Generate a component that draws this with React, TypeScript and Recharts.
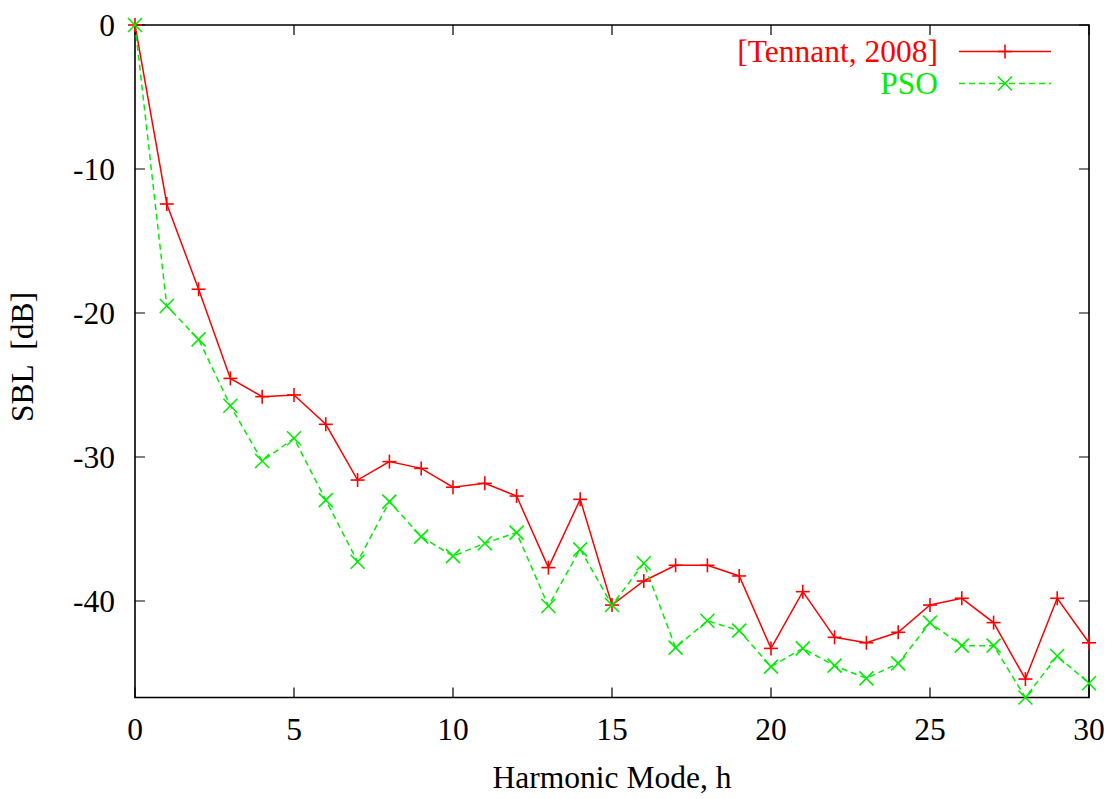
import React from 'react';
import {
  LineChart,
  Line,
  XAxis,
  YAxis,
  CartesianGrid,
  ReferenceArea,
  Legend,
  Label,
} from 'recharts';

const harmonics = [
  0, 1, 2, 3, 4, 5, 6, 7, 8, 9, 10, 11, 12, 13, 14, 15, 16, 17, 18, 19, 20, 21, 22, 23, 24, 25, 26,
  27, 28, 29, 30,
];

const tennant = [
  0, -12.43, -18.35, -24.54, -25.81, -25.69, -27.73, -31.6, -30.32, -30.79, -32.1, -31.83, -32.71,
  -37.68, -32.94, -40.28, -38.61, -37.52, -37.52, -38.26, -43.29, -39.35, -42.52, -42.9, -42.17,
  -40.28, -39.81, -41.5, -45.42, -39.81, -42.9,
];

const pso = [
  0, -19.51, -21.83, -26.44, -30.28, -28.7, -32.99, -37.27, -33.1, -35.53, -36.88, -35.99, -35.25,
  -40.35, -36.41, -40.28, -37.38, -43.24, -41.37, -42.06, -44.56, -43.29, -44.49, -45.37, -44.33,
  -41.5, -43.1, -43.1, -46.7, -43.82, -45.71,
];

const xTicks = [0, 5, 10, 15, 20, 25, 30];
const yTicks = [0, -10, -20, -30, -40];

const Y_MIN = -46.7;
const FONT = '"Liberation Serif", "Times New Roman", serif';
const FONT_SIZE = 31.5;
const RED = '#ff0000';
const GREEN = '#00ee00';

const CHART_W = 1118;
const CHART_H = 799;
const MARGIN = { top: 25, right: 29, bottom: 0, left: 0 };
const Y_AXIS_W = 135;
const X_AXIS_H = 101.5;
const PLOT_W = CHART_W - MARGIN.left - MARGIN.right - Y_AXIS_W;
const PLOT_H = CHART_H - MARGIN.top - MARGIN.bottom - X_AXIS_H;
const TICK_LEN = 10;

const data = harmonics.map((h, i) => ({ h, tennant: tennant[i], pso: pso[i] }));

function PlusMark({ cx, cy, color, size = 7 }: { cx: number; cy: number; color: string; size?: number }) {
  return (
    <g stroke={color} strokeWidth={1.6}>
      <line x1={cx - size} y1={cy} x2={cx + size} y2={cy} />
      <line x1={cx} y1={cy - size} x2={cx} y2={cy + size} />
    </g>
  );
}

function CrossMark({ cx, cy, color, size = 7 }: { cx: number; cy: number; color: string; size?: number }) {
  return (
    <g stroke={color} strokeWidth={1.6}>
      <line x1={cx - size} y1={cy - size} x2={cx + size} y2={cy + size} />
      <line x1={cx - size} y1={cy + size} x2={cx + size} y2={cy - size} />
    </g>
  );
}

function renderLegend() {
  const rows = [
    { name: '[Tennant, 2008]', color: RED, dash: undefined, mark: 'plus', y: 62 },
    { name: 'PSO', color: GREEN, dash: '6 4', mark: 'cross', y: 94 },
  ];
  return (
    <svg width={CHART_W} height={110} style={{ display: 'block' }}>
      {rows.map((r) => (
        <g key={r.name}>
          <text
            x={938}
            y={r.y}
            textAnchor="end"
            fill={r.color}
            fontFamily={FONT}
            fontSize={FONT_SIZE}
          >
            {r.name}
          </text>
          <line
            x1={959}
            y1={r.y - 10.5}
            x2={1051}
            y2={r.y - 10.5}
            stroke={r.color}
            strokeWidth={1.5}
            strokeDasharray={r.dash}
          />
          {r.mark === 'plus' ? (
            <PlusMark cx={1005} cy={r.y - 10.5} color={r.color} />
          ) : (
            <CrossMark cx={1005} cy={r.y - 10.5} color={r.color} />
          )}
        </g>
      ))}
    </svg>
  );
}

export default function App() {
  return (
    <div style={{ position: 'absolute', left: 0, top: 0, width: CHART_W, height: CHART_H, background: '#fff' }}>
      <LineChart width={CHART_W} height={CHART_H} data={data} margin={MARGIN}>
        {/* inward tick marks, drawn as short dashes of the grid at both ends */}
        <CartesianGrid
          vertical={false}
          stroke="#000"
          strokeWidth={1.2}
          strokeDasharray={`${TICK_LEN} ${PLOT_W - 2 * TICK_LEN} ${TICK_LEN} 2000`}
        />
        <CartesianGrid
          horizontal={false}
          stroke="#000"
          strokeWidth={1.2}
          strokeDasharray={`${TICK_LEN} ${PLOT_H - 2 * TICK_LEN} ${TICK_LEN} 2000`}
        />
        <XAxis
          dataKey="h"
          type="number"
          domain={[0, 30]}
          ticks={xTicks}
          height={X_AXIS_H}
          axisLine={false}
          tickLine={false}
          tickSize={0}
          tickMargin={20}
          tick={{ fill: '#000', fontSize: FONT_SIZE, fontFamily: FONT }}
        >
          <Label
            content={({ viewBox }: any) => (
              <text
                x={viewBox.x + viewBox.width / 2}
                y={viewBox.y + 90.5}
                textAnchor="middle"
                fill="#000"
                fontFamily={FONT}
                fontSize={FONT_SIZE}
              >
                Harmonic Mode, h
              </text>
            )}
          />
        </XAxis>
        <YAxis
          type="number"
          domain={[Y_MIN, 0]}
          ticks={yTicks}
          width={Y_AXIS_W}
          axisLine={false}
          tickLine={false}
          tickSize={0}
          tickMargin={20}
          tick={{ fill: '#000', fontSize: FONT_SIZE, fontFamily: FONT }}
        >
          <Label
            content={() => (
              <text
                x={33}
                y={357}
                transform="rotate(-90 33 357)"
                textAnchor="middle"
                fill="#000"
                fontFamily={FONT}
                fontSize={FONT_SIZE}
                xmlSpace="preserve"
                style={{ whiteSpace: 'pre' }}
              >
                {'SBL  [dB]'}
              </text>
            )}
          />
        </YAxis>
        <ReferenceArea
          x1={0}
          x2={30}
          y1={Y_MIN}
          y2={0}
          fill="none"
          stroke="#000"
          strokeWidth={1.6}
          fillOpacity={0}
        />
        <Legend
          layout="horizontal"
          verticalAlign="middle"
          content={renderLegend}
          wrapperStyle={{ position: 'absolute', top: 0, left: 0, width: CHART_W, height: 110 }}
        />
        <Line
          dataKey="tennant"
          name="[Tennant, 2008]"
          stroke={RED}
          strokeWidth={1.5}
          isAnimationActive={false}
          dot={(p: any) => <PlusMark key={`t-${p.index}`} cx={p.cx} cy={p.cy} color={RED} />}
          activeDot={false}
        />
        <Line
          dataKey="pso"
          name="PSO"
          stroke={GREEN}
          strokeWidth={1.5}
          strokeDasharray="6 4"
          isAnimationActive={false}
          dot={(p: any) => <CrossMark key={`p-${p.index}`} cx={p.cx} cy={p.cy} color={GREEN} />}
          activeDot={false}
        />
      </LineChart>
    </div>
  );
}
